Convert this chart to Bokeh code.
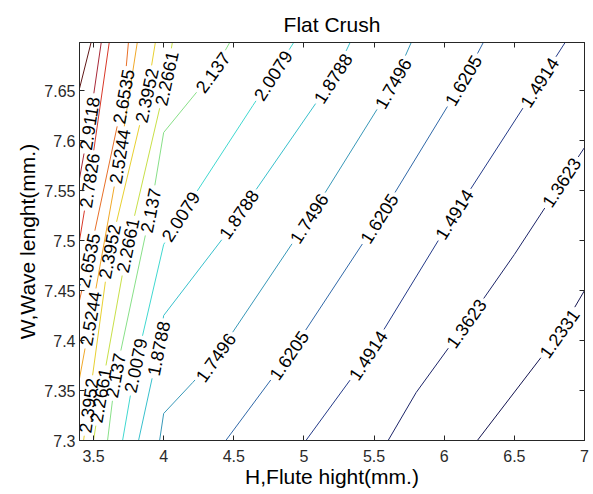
import math
from bokeh.plotting import figure
from bokeh.models import Range1d, LinearAxis, FixedTicker, ColumnDataSource
from bokeh.core.properties import value
from bokeh.embed import file_html
from bokeh.resources import INLINE

# ---------------- data ----------------
X_MIN, X_MAX = 3.4, 7.0
Y_MIN, Y_MAX = 7.3, 7.698
X_TICKS = [3.5, 4, 4.5, 5, 5.5, 6, 6.5, 7]
X_TICK_LABELS = ["3.5", "4", "4.5", "5", "5.5", "6", "6.5", "7"]
Y_TICKS = [7.3, 7.35, 7.4, 7.45, 7.5, 7.55, 7.6, 7.65]
Y_TICK_LABELS = ["7.3", "7.35", "7.4", "7.45", "7.5", "7.55", "7.6", "7.65"]

LEVEL_LABELS = ["1.2331", "1.3623", "1.4914", "1.6205", "1.7496", "1.8788", "2.0079",
                "2.137", "2.2661", "2.3952", "2.5244", "2.6535", "2.7826", "2.9118", "3.0409"]

# contour paths: H (flute height) and W (wave length) of points along each level line
LINE_H = [
    [6.236, 6.821, 7.0],
    [5.6, 5.8, 6.157, 6.5, 6.836, 7.0],
    [5.014, 5.457, 6.071, 6.679, 6.871],
    [4.443, 4.893, 5.536, 6.136, 6.286],
    [3.971, 4.0, 4.207, 4.371, 5.036, 5.636, 5.771],
    [3.821, 3.964, 4.0, 4.421, 4.536, 5.207, 5.336],
    [3.707, 3.8, 4.0, 4.121, 4.636, 4.779, 4.936],
    [3.6, 3.657, 3.907, 4.0, 4.35, 4.479],
    [3.5, 3.55, 3.743, 4.021, 4.064],
    [3.429, 3.464, 3.614, 3.879, 3.943],
    [3.4, 3.479, 3.686, 3.814],
    [3.4, 3.464, 3.714, 3.75],
    [3.4, 3.471, 3.614],
    [3.4, 3.471, 3.557],
    [3.4, 3.486],
]
LINE_W = [
    [7.3, 7.407, 7.45],
    [7.3, 7.348, 7.417, 7.486, 7.558, 7.593],
    [7.3, 7.385, 7.526, 7.658, 7.7],
    [7.3, 7.385, 7.522, 7.66, 7.7],
    [7.3, 7.327, 7.358, 7.383, 7.522, 7.657, 7.7],
    [7.3, 7.392, 7.425, 7.502, 7.526, 7.662, 7.7],
    [7.3, 7.375, 7.496, 7.524, 7.635, 7.665, 7.7],
    [7.3, 7.365, 7.53, 7.608, 7.668, 7.7],
    [7.3, 7.345, 7.495, 7.662, 7.7],
    [7.3, 7.335, 7.489, 7.645, 7.7],
    [7.362, 7.422, 7.584, 7.7],
    [7.44, 7.48, 7.644, 7.7],
    [7.5, 7.56, 7.7],
    [7.562, 7.617, 7.7],
    [7.652, 7.7],
]
# index of the path point where each inline label sits
LABEL_AT = [
    [1], [2, 4], [1, 2, 3], [1, 2, 3], [3, 4, 5], [1, 4, 5], [1, 3, 5],
    [1, 2, 4], [1, 2, 3], [1, 2, 3], [1, 2], [1, 2], [1], [1], [],
]
LINE_COLORS = ["#141450", "#1c2468", "#243a88", "#3068a8", "#3898b8", "#38c0cc", "#40d8d0",
               "#88e088", "#c8e048", "#e8d030", "#f0a828", "#e87028", "#d83828", "#a82838",
               "#601818"]

# ---------------- layout ----------------
FIG_W, FIG_H = 593, 494
B_L, B_R, B_T, B_B = 79, 9, 42, 54
FRAME_W = FIG_W - B_L - B_R
FRAME_H = FIG_H - B_T - B_B
SX = FRAME_W / (X_MAX - X_MIN)
SY = FRAME_H / (Y_MAX - Y_MIN)
LABEL_FS = 18
FONT = "Liberation Sans"
AX_COLOR = "#262626"


def text_width(s):
    return LABEL_FS * sum(0.278 if c == "." else 0.556 for c in s)


seg_xs, seg_ys, seg_col = [], [], []
lab_x, lab_y, lab_t, lab_a = [], [], [], []

for i, (hs, ws) in enumerate(zip(LINE_H, LINE_W)):
    P = [((h - X_MIN) * SX, (w - Y_MIN) * SY) for h, w in zip(hs, ws)]
    n = len(P)
    cum = [0.0]
    for j in range(1, n):
        cum.append(cum[-1] + math.hypot(P[j][0] - P[j - 1][0], P[j][1] - P[j - 1][1]))
    total = cum[-1]

    def point_at(s):
        for j in range(1, n):
            if s <= cum[j] or j == n - 1:
                L = cum[j] - cum[j - 1]
                t = 0 if L == 0 else (s - cum[j - 1]) / L
                t = max(0.0, min(1.0, t))
                return (P[j - 1][0] + t * (P[j][0] - P[j - 1][0]),
                        P[j - 1][1] + t * (P[j][1] - P[j - 1][1]))
        return P[-1]

    gaps = []
    for k in LABEL_AT[i]:
        r = text_width(LEVEL_LABELS[i]) / 2 + 3
        gaps.append((cum[k] - r, cum[k] + r))
        k1, k2 = max(k - 1, 0), min(k + 1, n - 1)
        ang = math.atan2(P[k2][1] - P[k1][1], P[k2][0] - P[k1][0])
        if ang > math.pi / 2:
            ang -= math.pi
        if ang < -math.pi / 2:
            ang += math.pi
        lab_x.append(hs[k]); lab_y.append(ws[k]); lab_t.append(LEVEL_LABELS[i]); lab_a.append(ang)
    gaps.sort()
    keep = []
    start = 0.0
    for a, b in gaps:
        if a > start:
            keep.append((start, a))
        start = max(start, b)
    if start < total:
        keep.append((start, total))
    for a, b in keep:
        if b - a < 0.5:
            continue
        pts = [point_at(a)] + [P[j] for j in range(n) if a < cum[j] < b] + [point_at(b)]
        seg_xs.append([X_MIN + px / SX for px, py in pts])
        seg_ys.append([Y_MIN + py / SY for px, py in pts])
        seg_col.append(LINE_COLORS[i])

# ---------------- figure ----------------
p = figure(width=FIG_W, height=FIG_H, x_range=Range1d(X_MIN, X_MAX), y_range=Range1d(Y_MIN, Y_MAX),
           output_backend="svg", toolbar_location=None,
           min_border_left=B_L, min_border_right=B_R, min_border_top=B_T, min_border_bottom=B_B,
           background_fill_color="white", border_fill_color="white")
p.xgrid.visible = False
p.ygrid.visible = False
p.outline_line_color = AX_COLOR
p.outline_line_width = 1

p.title.text = "Flat Crush"
p.title.align = "center"
p.title.text_font = FONT
p.title.text_font_size = "21px"
p.title.text_font_style = "normal"
p.title.text_color = "black"
p.title.standoff = 14

def style_axis(ax, ticks, labels, show):
    ax.ticker = FixedTicker(ticks=ticks)
    ax.major_tick_in = 5
    ax.major_tick_out = 0
    ax.minor_tick_line_color = None
    ax.major_tick_line_color = AX_COLOR
    ax.axis_line_color = AX_COLOR
    if show:
        ax.major_label_overrides = dict(zip(ticks, labels))
        ax.major_label_text_font = FONT
        ax.major_label_text_font_size = "16px"
        ax.major_label_text_color = "#2a2a2a"
        ax.major_label_standoff = 4
        ax.axis_label_text_font = FONT
        ax.axis_label_text_font_size = "21px"
        ax.axis_label_text_font_style = "normal"
        ax.axis_label_text_color = "black"
    else:
        ax.major_label_overrides = {t: "" for t in ticks}
        ax.major_label_text_font_size = "0px"
        ax.major_label_standoff = 0

style_axis(p.xaxis[0], X_TICKS, X_TICK_LABELS, True)
p.xaxis[0].axis_label = "H,Flute hight(mm.)"
p.xaxis[0].major_label_standoff = 9
p.xaxis[0].axis_label_standoff = 0
style_axis(p.yaxis[0], Y_TICKS, Y_TICK_LABELS, True)
p.yaxis[0].axis_label = "W,Wave lenght(mm.)"
p.yaxis[0].axis_label_standoff = 2

top_ax = LinearAxis()
style_axis(top_ax, X_TICKS, X_TICK_LABELS, False)
p.add_layout(top_ax, "above")
right_ax = LinearAxis()
style_axis(right_ax, Y_TICKS, Y_TICK_LABELS, False)
p.add_layout(right_ax, "right")

p.multi_line(xs="xs", ys="ys", line_color="c", line_width=1,
             source=ColumnDataSource(dict(xs=seg_xs, ys=seg_ys, c=seg_col)))
p.text(x="x", y="y", text="t", angle="a",
       source=ColumnDataSource(dict(x=lab_x, y=lab_y, t=lab_t, a=lab_a)),
       text_align="center", text_baseline="middle", text_font=value(FONT),
       text_font_size=value("%dpx" % LABEL_FS), text_color="black")

open("out.html", "w").write(file_html(p, INLINE))
